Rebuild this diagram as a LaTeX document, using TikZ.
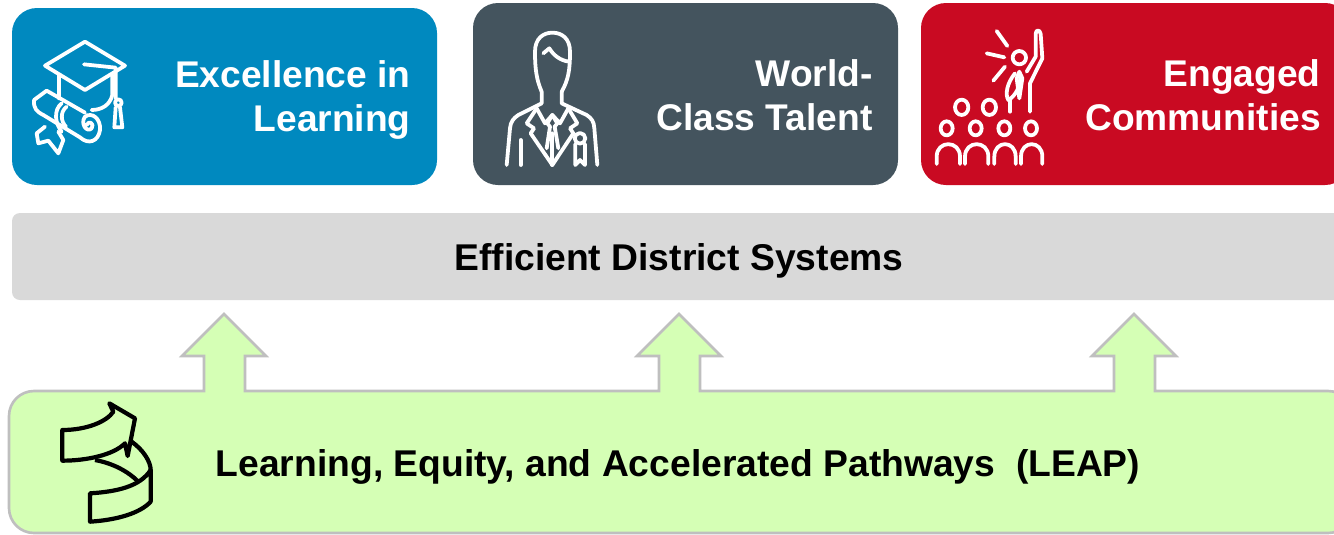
\documentclass[tikz,border=0pt]{standalone}
\usepackage{fontspec}
\setmainfont{Liberation Sans}
\usetikzlibrary{calc}
\definecolor{bluebox}{HTML}{0089BF}
\definecolor{slatebox}{HTML}{44545E}
\definecolor{redbox}{HTML}{C90A22}
\definecolor{greybox}{HTML}{D9D9D9}
\definecolor{leapgreen}{HTML}{D5FFB5}
\definecolor{leapline}{HTML}{BFBFBF}
\tikzset{
  pillar/.style={font=\fontsize{21.15}{25}\selectfont\bfseries, text=white, align=right, anchor=east, inner sep=0pt},
  band/.style={font=\fontsize{21.2}{25}\selectfont\bfseries, text=black, inner sep=0pt},
  whiteicon/.style={draw=white, line width=2.15pt, line cap=round, line join=round},
  blackicon/.style={draw=black, line width=2.4pt, line join=round}
}
\begin{document}
\begin{tikzpicture}[x=0.02cm,y=-0.02cm]
    \useasboundingbox (0,0) rectangle (1334,534);
    % Top boxes
    \fill[bluebox,rounded corners=0.5cm] (12,8) rectangle (437,185);
    \fill[slatebox,rounded corners=0.5cm] (473,3) rectangle (898,185);
    \fill[redbox,rounded corners=0.5cm] (921,3) rectangle (1350,185);
    \node[pillar] (excellence) at (411,100) {Excellence in\\[0.5pt]Learning};
    \node[pillar] (talent) at (873,95) {World-\\Class Talent};
    \node[pillar] (communities) at (1321,95) {Engaged\\Communities};
    % Grey band
    \fill[greybox,rounded corners=0.16cm] (12,213) rectangle (1350,300);
    \node[band] (systems) at (679,261) {Efficient District Systems};
    % Green base with its three arrows
    \draw[leapline,fill=leapgreen,line width=1.5pt,rounded corners=0.5cm]
        (1353,450) -- (1353,533) -- (9,533) -- (9,391) -- (60,391) [sharp corners] -- (204,391) -- (204,356) -- (182,356) -- (224,314)
        -- (266,356) -- (245,356) -- (245,391) -- (659,391) -- (659,356) -- (637,356) -- (679,314)
        -- (721,356) -- (700,356) -- (700,391) -- (1114,391) -- (1114,356) -- (1092,356) -- (1134,314)
        -- (1176,356) -- (1155,356) -- (1155,391) -- (1300,391) [rounded corners=0.5cm] -- (1353,391) -- (1353,450);
    \node[band] (leap) at (678,467) {Learning, Equity, and Accelerated Pathways\ \ (LEAP)};
    % Mortarboard and diploma
    \begin{scope}[shift={(20,20)},scale=1/3,whiteicon]
        \draw (195,65) -- (315,137) -- (195,210) -- (75,137) -- cycle;
        \draw (192,133) -- (287,143) -- (287,235);
        \draw (295,248) circle (10);
        \draw (287,262) -- (283,322) -- (307,322) -- (300,262);
        \draw (117,165) -- (117,235);
        \draw (277,165) -- (277,225) .. controls (270,255) and (245,270) .. (215,270);
        \draw (42,240) -- (80,212) -- (195,278);
        \draw (42,240) .. controls (40,265) and (50,275) .. (70,285) -- (180,352) .. controls (205,375) and (235,365) .. (240,330) .. controls (243,295) and (215,275) .. (195,290) .. controls (180,310) and (200,340) .. (215,325) .. controls (225,310) and (205,300) .. (200,315);
        \draw (125,250) .. controls (100,270) and (105,310) .. (125,335);
        \draw (140,260) .. controls (120,275) and (122,305) .. (138,320);
        \draw (75,320) -- (50,340) -- (55,370) -- (85,362) -- (115,400) -- (130,360) -- (115,335);
    \end{scope}
    % Man with rosette
    \begin{scope}[shift={(490,20)},scale=1/3,whiteicon]
        \draw (155,215) .. controls (140,180) and (135,150) .. (135,95) .. controls (135,55) and (160,38) .. (187,38) .. controls (215,38) and (240,55) .. (240,95) .. controls (240,150) and (235,180) .. (215,215);
        \draw (160,100) -- (178,85) .. controls (190,105) and (210,122) .. (238,125);
        \draw (155,215) -- (155,250) -- (85,285) .. controls (70,295) and (62,305) .. (60,325) -- (50,435);
        \draw (215,215) -- (215,250) -- (290,285) .. controls (305,295) and (312,305) .. (313,325) -- (322,435);
        \draw (92,360) -- (92,435);
        \draw (140,265) -- (110,310) -- (132,325) -- (122,340) -- (187,435) -- (250,340) -- (240,325) -- (262,310) -- (235,265);
        \draw (140,265) -- (165,310) -- (187,285) -- (210,310) -- (235,265);
        \draw (187,285) -- (172,310) -- (180,320) -- (170,385);
        \draw (187,285) -- (202,310) -- (194,320) -- (205,385);
        \draw (187,340) -- (187,435);
        \draw (270,355) circle (16);
        \draw (256,372) -- (256,435) -- (270,420) -- (285,435) -- (285,372);
    \end{scope}
    % Speaker and crowd
    \begin{scope}[shift={(925,20)},scale=1/3,whiteicon]
        \foreach \cx in {110,193} {
            \draw (\cx,262) ellipse (20 and 23);
        }
        \foreach \cx/\ax/\bx in {65/35/105,152/120/190,238/208/272,318/288/352} {
            \draw (\cx,325) ellipse (18 and 21);
            \draw (\ax,432) -- (\ax,410) .. controls (\ax,360) and (\bx,360) .. (\bx,410) -- (\bx,432);
        }
        \draw (283,113) circle (20);
        \draw (315,275) -- (315,190) -- (352,115) -- (347,42) .. controls (345,28) and (332,28) .. (332,42) -- (332,110) -- (305,155);
        \draw (215,33) -- (247,78);
        \draw (185,100) -- (238,112);
        \draw (205,182) -- (240,140);
        \draw (270,160) .. controls (245,190) and (240,225) .. (250,240) .. controls (270,230) and (290,195) .. (285,165);
        \draw (283,155) -- (275,175) -- (283,235) -- (292,175) -- cycle;
        \draw (255,240) -- (255,275);
    \end{scope}
    % Ribbon arrow
    \begin{scope}[shift={(0,380)},scale=1/3,blackicon]
        \draw (187,150) .. controls (260,150) and (320,125) .. (340,95) -- (328,70) -- (405,115) -- (383,228) -- (375,190) .. controls (340,225) and (260,242) .. (187,242) -- cycle;
        \draw (270,340) .. controls (350,335) and (420,320) .. (452,270) -- (452,365) .. controls (420,400) and (350,420) .. (270,425) -- cycle;
        \draw (395,185) .. controls (430,210) and (452,245) .. (452,270);
        \draw (285,240) .. controls (340,250) and (385,275) .. (415,305);
    \end{scope}
\end{tikzpicture}
\end{document}
